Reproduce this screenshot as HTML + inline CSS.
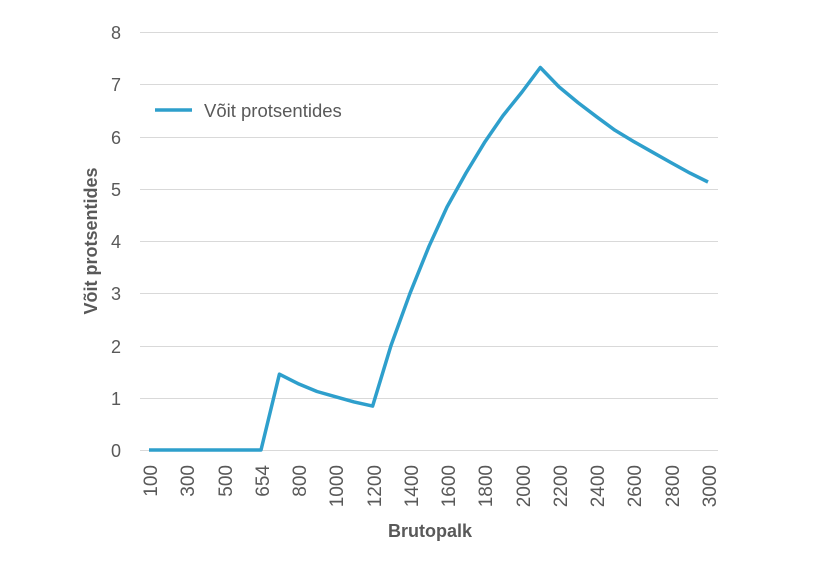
<!DOCTYPE html>
<html><head><meta charset="utf-8"><style>body{margin:0;background:#fff}</style></head><body>
<svg width="829" height="565" xmlns="http://www.w3.org/2000/svg" font-family="Liberation Sans, sans-serif">
<rect width="829" height="565" fill="#fff"/>
<g stroke="#d9d9d9" stroke-width="1">
<line x1="140" x2="718" y1="32.5" y2="32.5"/><line x1="140" x2="718" y1="84.5" y2="84.5"/>
<line x1="140" x2="718" y1="137.5" y2="137.5"/><line x1="140" x2="718" y1="189.5" y2="189.5"/>
<line x1="140" x2="718" y1="241.5" y2="241.5"/><line x1="140" x2="718" y1="293.5" y2="293.5"/>
<line x1="140" x2="718" y1="346.5" y2="346.5"/><line x1="140" x2="718" y1="398.5" y2="398.5"/>
<line x1="140" x2="718" y1="450.5" y2="450.5"/>
</g>
<g font-size="18" fill="#595959" text-anchor="end">
<text x="121" y="39">8</text><text x="121" y="91">7</text><text x="121" y="144">6</text>
<text x="121" y="196">5</text><text x="121" y="248">4</text><text x="121" y="300">3</text>
<text x="121" y="353">2</text><text x="121" y="405">1</text><text x="121" y="457">0</text>
</g>
<g font-size="19" fill="#595959" text-anchor="end">
<text transform="translate(157,465) rotate(-90)">100</text>
<text transform="translate(194,465) rotate(-90)">300</text>
<text transform="translate(232,465) rotate(-90)">500</text>
<text transform="translate(269,465) rotate(-90)">654</text>
<text transform="translate(306,465) rotate(-90)">800</text>
<text transform="translate(343,465) rotate(-90)">1000</text>
<text transform="translate(381,465) rotate(-90)">1200</text>
<text transform="translate(418,465) rotate(-90)">1400</text>
<text transform="translate(455,465) rotate(-90)">1600</text>
<text transform="translate(492,465) rotate(-90)">1800</text>
<text transform="translate(530,465) rotate(-90)">2000</text>
<text transform="translate(567,465) rotate(-90)">2200</text>
<text transform="translate(604,465) rotate(-90)">2400</text>
<text transform="translate(641,465) rotate(-90)">2600</text>
<text transform="translate(679,465) rotate(-90)">2800</text>
<text transform="translate(716,465) rotate(-90)">3000</text>
</g>
<text x="430" y="537" font-size="18" font-weight="bold" fill="#595959" text-anchor="middle">Brutopalk</text>
<text transform="translate(97,241) rotate(-90)" font-size="18" font-weight="bold" fill="#595959" text-anchor="middle">Võit protsentides</text>
<line x1="155" x2="192" y1="110" y2="110" stroke="#2e9fcc" stroke-width="3.5"/>
<text x="204" y="117" font-size="18.5" fill="#595959">Võit protsentides</text>
<polyline fill="none" stroke="#2e9fcc" stroke-width="3.5" stroke-linejoin="round"
points="149,450 168,450 186,450 205,450 224,450 242,450 261,450 279.4,374.2 298,383.6 317,391.5 335.3,396.7 354,401.9 372.6,406.1 391,345.5 410,293.3 429,246.3 447,207 466,173 485,141.7 503,115.6 522,92 540.3,67.5 559,86.9 578,102.6 596.5,116.7 615,130.3 634,141.7 652.5,152.2 671,162.6 690,173.1 708,182"/>
</svg>
</body></html>
